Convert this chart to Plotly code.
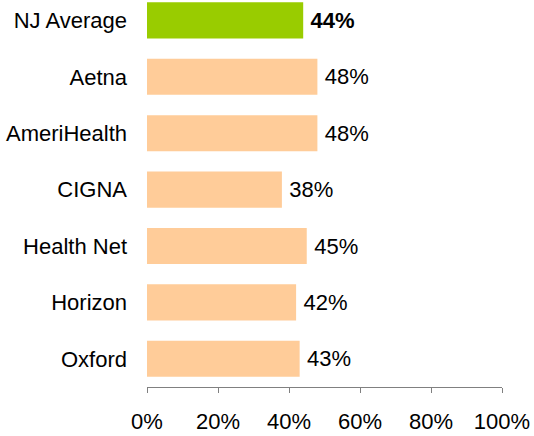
import plotly.graph_objects as go

categories = ["NJ Average", "Aetna", "AmeriHealth", "CIGNA", "Health Net", "Horizon", "Oxford"]
values = [44, 48, 48, 38, 45, 42, 43]
colors = ["#99CC00", "#FFCC99", "#FFCC99", "#FFCC99", "#FFCC99", "#FFCC99", "#FFCC99"]
x_ticks = [0, 20, 40, 60, 80, 100]
x_tick_labels = ["0%", "20%", "40%", "60%", "80%", "100%"]

labels = [("\u2009<b>%d%%</b>" if i == 0 else "\u2009%d%%") % v for i, v in enumerate(values)]

fig = go.Figure(go.Bar(
    x=values,
    y=categories,
    orientation="h",
    marker=dict(color=colors, line=dict(width=0)),
    width=0.64,
    text=labels,
    textposition="outside",
    textfont=dict(family="Liberation Sans, Arial", size=22, color="black"),
    cliponaxis=False,
    hoverinfo="skip",
))

fig.update_layout(
    width=534, height=436,
    margin=dict(l=147, r=32, t=0, b=49),
    paper_bgcolor="white", plot_bgcolor="white",
    font=dict(family="Liberation Sans, Arial", size=22, color="black"),
    showlegend=False,
)
fig.update_xaxes(
    range=[0, 100], tickvals=x_ticks, ticktext=x_tick_labels,
    showgrid=False, zeroline=False, showline=True, linecolor="#808080", linewidth=1,
    ticks="outside", ticklen=5, tickcolor="#808080",
    ticklabelstandoff=10,
    tickfont=dict(size=22),
)
fig.update_yaxes(
    categoryorder="array", categoryarray=categories,
    range=[6.5, -0.362],
    showgrid=False, zeroline=False, showline=False, ticks="",
    ticklabelstandoff=19,
    tickfont=dict(size=22),
)

fig.write_html("out.html", config={"displayModeBar": False},
               post_script="document.body.style.margin='0';")
